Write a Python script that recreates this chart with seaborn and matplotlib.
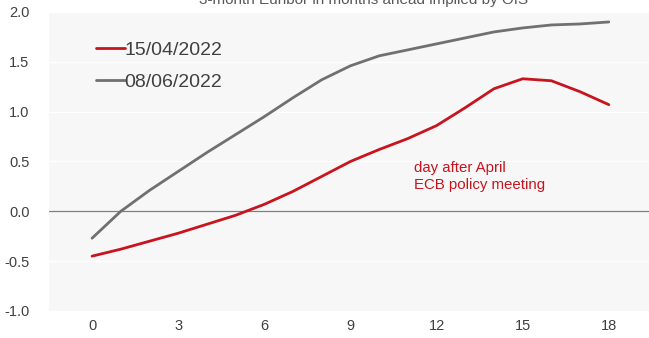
import numpy as np
import pandas as pd
import matplotlib
matplotlib.use('Agg')
import matplotlib.pyplot as plt
import seaborn as sns

# months ahead
months = list(range(0, 19))
# 3-month Euribor implied by OIS
apr_15 = [-0.45, -0.38, -0.30, -0.22, -0.13, -0.04, 0.07, 0.20, 0.35, 0.50,
          0.62, 0.73, 0.86, 1.04, 1.23, 1.33, 1.31, 1.20, 1.07]
jun_08 = [-0.27, 0.00, 0.21, 0.40, 0.59, 0.77, 0.95, 1.14, 1.32, 1.46,
          1.56, 1.62, 1.68, 1.74, 1.80, 1.84, 1.87, 1.88, 1.90]
series_names = ["15/04/2022", "08/06/2022"]
x_ticks = [0, 3, 6, 9, 12, 15, 18]
y_ticks = [-1.0, -0.5, 0.0, 0.5, 1.0, 1.5, 2.0]

df = pd.DataFrame({
    "month": months * 2,
    "rate": apr_15 + jun_08,
    "series": [series_names[0]] * len(months) + [series_names[1]] * len(months),
})

sns.set_style("white")
plt.rcParams['font.family'] = ['Liberation Sans', 'DejaVu Sans']

fig = plt.figure(figsize=(6.49, 3.38), dpi=100)
ax = fig.add_axes([0.0755, 0.08, 0.9245, 0.8845])
ax.set_facecolor("#f7f7f7")

palette = {series_names[0]: "#c8141e", series_names[1]: "#707070"}
sns.lineplot(data=df, x="month", y="rate", hue="series", palette=palette,
             linewidth=2.0, ax=ax)
for line in ax.get_lines():
    line.set_solid_joinstyle("round")
    line.set_solid_capstyle("round")

ax.set_ylim(-1.0, 2.0)
ax.set_xlim(-1.5, 19.4)
ax.set_yticks(y_ticks)
ax.set_yticklabels([f"{v:.1f}" for v in y_ticks])
ax.set_xticks(x_ticks)
ax.grid(axis="y", color="white", linewidth=1.0)
ax.set_axisbelow(True)
ax.axhline(0, color="#808080", linewidth=0.9, zorder=1)
for s in ax.spines.values():
    s.set_visible(False)
ax.tick_params(length=0, labelsize=10.5, colors="#404040")
ax.tick_params(axis="y", pad=14)
ax.tick_params(axis="x", pad=6)
ax.set_xlabel("")
ax.set_ylabel("")

leg = ax.legend(loc="upper left", bbox_to_anchor=(0.05, 0.96), frameon=False,
                fontsize=14, handlelength=1.45, handletextpad=0.0,
                labelspacing=0.75, labelcolor="#404040")
for line in leg.get_lines():
    line.set_linewidth(2.0)

ax.text(11.2, 0.35, "day after April\nECB policy meeting", color="#c8141e",
        fontsize=10.8, ha="left", va="center", linespacing=1.2)

fig.text(0.56, 1.0, "3-month Euribor in months ahead implied by OIS",
         ha="center", va="center", fontsize=11, color="#595959")

fig.savefig("out.png", dpi=100)
